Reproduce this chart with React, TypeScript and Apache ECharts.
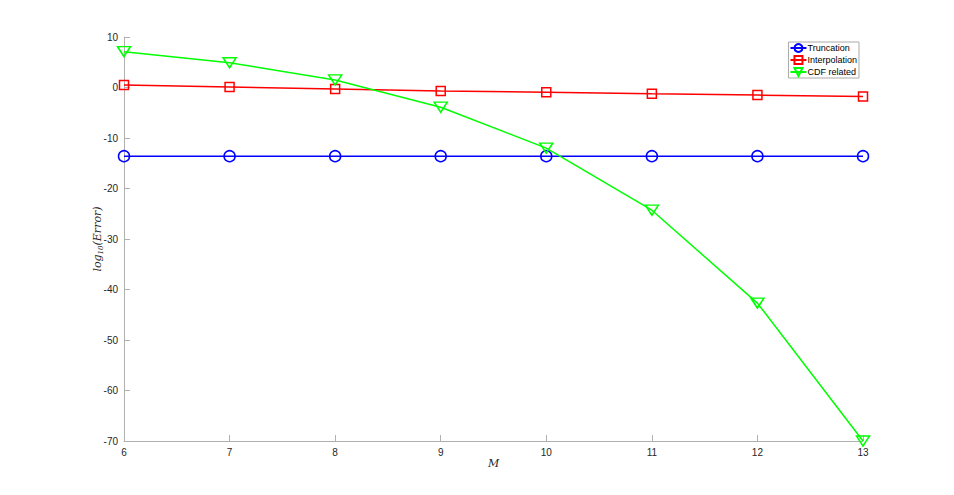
import React, { useEffect, useRef } from "react";
import * as echarts from "echarts";

const mValues = [6, 7, 8, 9, 10, 11, 12, 13];
const truncation = [-13.6, -13.6, -13.6, -13.6, -13.6, -13.6, -13.6, -13.6];
const interpolation = [0.5, 0.1, -0.3, -0.7, -0.95, -1.25, -1.5, -1.8];
const cdfRelated = [7.1, 4.9, 1.5, -3.9, -12.0, -24.3, -42.7, -70.0];
const seriesNames = ["Truncation", "Interpolation", "CDF related"];

export default function App() {
  const ref = useRef<HTMLDivElement>(null);
  useEffect(() => {
    if (!ref.current) return;
    const chart = echarts.init(ref.current, undefined, { renderer: "svg" });
    const toPairs = (arr: number[]) => mValues.map((m, i) => [m, arr[i]]);
    const axisColor = "#b0b0b0";
    const labelColor = "#262626";
    chart.setOption({
      animation: false,
      backgroundColor: "#ffffff",
      grid: { left: 124, right: 91, top: 37, bottom: 54, containLabel: false },
      legend: {
        right: 95,
        top: 42,
        orient: "vertical",
        itemGap: 2,
        itemWidth: 16,
        itemHeight: 10,
        padding: [1, 2, 1, 1],
        borderColor: "#aaaaaa",
        borderWidth: 1,
        backgroundColor: "#ffffff",
        textStyle: { fontFamily: "Liberation Sans, Arial, sans-serif", fontSize: 9, color: "#000", padding: [0, 0, 0, -4] },
        data: seriesNames,
      },
      xAxis: {
        type: "value",
        min: 6,
        max: 13,
        interval: 1,
        name: "M",
        nameLocation: "middle",
        nameGap: 17,
        nameMoveOverlap: false,
        nameTextStyle: { fontFamily: "DejaVu Serif, serif", fontStyle: "italic", fontSize: 11, color: labelColor },
        axisLine: { show: true, onZero: false, lineStyle: { color: axisColor, width: 1 } },
        axisTick: { show: true, inside: true, length: 6, lineStyle: { color: axisColor } },
        axisLabel: { color: labelColor, fontFamily: "Liberation Sans, Arial, sans-serif", fontSize: 10, margin: 6 },
        splitLine: { show: false },
      },
      yAxis: {
        type: "value",
        min: -70,
        max: 10,
        interval: 10,
        name: "{it|log}{sub|10}{it|(Error)}",
        nameLocation: "middle",
        nameGap: 20,
        nameMoveOverlap: false,
        nameRotate: 90,
        nameTextStyle: {
          rich: {
            it: { fontFamily: "DejaVu Serif, serif", fontStyle: "italic", fontSize: 11, color: labelColor },
            sub: { fontFamily: "DejaVu Serif, serif", fontStyle: "italic", fontSize: 7, color: labelColor, verticalAlign: "bottom", padding: [6, 0, 0, 0] },
          },
        },
        axisLine: { show: true, onZero: false, lineStyle: { color: axisColor, width: 1 } },
        axisTick: { show: true, inside: true, length: 6, lineStyle: { color: axisColor } },
        axisLabel: { color: labelColor, fontFamily: "Liberation Sans, Arial, sans-serif", fontSize: 10, margin: 6 },
        splitLine: { show: false },
      },
      series: [
        {
          name: seriesNames[0],
          type: "line",
          data: toPairs(truncation),
          symbol: "circle",
          symbolSize: 11,
          lineStyle: { color: "#0000ff", width: 1.5 },
          itemStyle: { color: "rgba(255,255,255,0)", borderColor: "#0000ff", borderWidth: 1.5 },
          z: 2,
        },
        {
          name: seriesNames[1],
          type: "line",
          data: toPairs(interpolation),
          symbol: "rect",
          symbolSize: 9,
          lineStyle: { color: "#ff0000", width: 1.5 },
          itemStyle: { color: "rgba(255,255,255,0)", borderColor: "#ff0000", borderWidth: 1.5 },
          z: 3,
        },
        {
          name: seriesNames[2],
          type: "line",
          data: toPairs(cdfRelated),
          symbol: "triangle",
          symbolRotate: 180,
          symbolSize: [13, 10],
          lineStyle: { color: "#00ff00", width: 1.5 },
          itemStyle: { color: "rgba(255,255,255,0)", borderColor: "#00ff00", borderWidth: 1.5 },
          z: 4,
        },
      ],
    });
    return () => chart.dispose();
  }, []);
  return <div ref={ref} style={{ width: 954, height: 495, position: "absolute", left: 0, top: 0 }} />;
}
